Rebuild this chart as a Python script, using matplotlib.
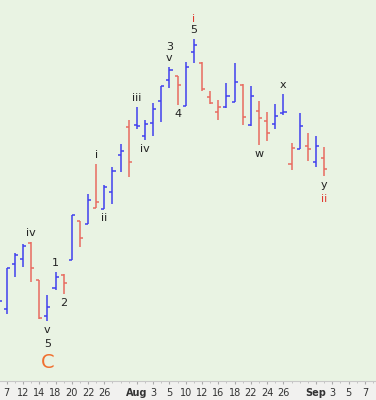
import matplotlib.pyplot as plt

# OHLC bars (price units), oldest first
opens = [30.8, 29.1, 33.6, 34.1, 35.7, 32.0, 28.4, 31.2, 32.5, 34.0, 37.9,
         37.6, 39.2, 39.1, 40.8, 44.5, 47.3, 47.5, 46.4, 47.7, 49.9, 52.0,
         52.4, 49.4, 54.8, 53.7, 50.3, 48.8, 49.3, 49.8, 51.5, 47.5, 48.9,
         47.9, 47.6, 48.7, 43.6, 45.1, 45.4, 43.8, 44.2]
highs = [31.5, 33.2, 34.7, 35.6, 35.8, 32.0, 30.5, 32.8, 32.6, 38.5, 37.9,
         40.6, 43.6, 41.5, 43.3, 45.6, 48.0, 49.3, 48.0, 49.7, 51.4, 53.3,
         52.4, 53.8, 56.1, 53.8, 50.9, 50.0, 51.7, 53.7, 51.6, 51.4, 49.9,
         48.8, 49.6, 50.6, 45.7, 48.7, 46.7, 46.4, 45.3]
lows = [29.0, 28.6, 32.3, 33.3, 31.8, 28.1, 27.9, 31.0, 30.6, 34.0, 35.3,
        37.6, 39.2, 39.1, 39.6, 42.8, 42.3, 47.1, 46.0, 46.4, 47.8, 51.2,
        49.5, 49.4, 53.7, 50.9, 49.6, 48.0, 49.2, 49.8, 47.5, 47.4, 45.5,
        45.9, 47.1, 48.5, 43.0, 45.1, 43.9, 43.3, 42.4]
closes = [29.9, 33.2, 34.5, 35.4, 33.2, 28.2, 29.3, 32.3, 31.7, 38.5, 36.2,
          40.0, 39.8, 41.3, 42.9, 44.9, 43.8, 47.4, 47.6, 49.1, 51.4, 53.0,
          51.5, 53.3, 55.5, 51.1, 49.7, 49.3, 50.4, 51.8, 48.3, 50.4, 48.2,
          46.7, 48.4, 48.8, 45.2, 47.4, 45.1, 45.4, 43.1]

# wave labels: bar index, text, above/below the bar
wave_bar = [4, 6, 6, 6, 7, 8, 12, 13, 17, 18, 21, 21, 22, 24, 24, 32, 35, 40, 40]
wave_text = ["iv", "v", "5", "C", "1", "2", "i", "ii", "iii", "iv", "v", "3",
             "4", "5", "i", "w", "x", "y", "ii"]
wave_side = ["up", "dn", "dn", "dn", "up", "dn", "up", "dn", "up", "dn", "up",
             "up", "dn", "up", "up", "dn", "up", "dn", "dn"]

# x axis labels (every other bar)
tick_pos = [1, 3, 5, 7, 9, 11, 13, 17, 19, 21, 23, 25, 27, 29, 31, 33, 35,
            39, 41, 43, 45]
tick_lab = ["7", "12", "14", "18", "20", "22", "26", "Aug", "3", "5", "10",
            "12", "16", "18", "22", "24", "26", "Sep", "3", "5", "7"]

blue = "#4040ee"
red = "#e86a60"

fig = plt.figure(figsize=(3.76, 4.0), dpi=100)
fig.patch.set_facecolor("#f1f1ef")
ax = fig.add_axes([0, 19 / 400, 1, 381 / 400])
ax.set_facecolor("#e9f3e3")

for i in range(len(opens)):
    up = i == 0 or closes[i] >= closes[i - 1]
    c = blue if up else red
    ax.vlines(i, lows[i], highs[i], color=c, lw=1.1)
    ax.hlines(opens[i], i - 0.38, i, color=c, lw=1.1)
    ax.hlines(closes[i], i, i + 0.38, color=c, lw=1.1)

# stacked labels: count how many are already on each side of a bar
stack = {}
for b, t, s in zip(wave_bar, wave_text, wave_side):
    k = (b, s)
    n = stack.get(k, 0)
    stack[k] = n + 1
    color = "#222222"
    size = 8
    if t == "C":
        color = "#f07030"
        size = 14
    elif (t == "i" and b == 24) or (t == "ii" and b == 40):
        color = "#e03a30"
    if s == "up":
        y = highs[b]
        off = 3 + n * 8
        va = "bottom"
    else:
        y = lows[b]
        off = -(3 + n * 10)
        va = "top"
    ax.annotate(t, (b, y), xytext=(0, off), textcoords="offset points",
                ha="center", va=va, fontsize=size, color=color)

ax.set_xlim(0.18, 46.37)
ax.set_ylim(21.9, 60)
ax.set_yticks([])
ax.set_xticks(tick_pos)
ax.set_xticklabels(tick_lab, fontsize=7, color="#333333")
for lab in ax.get_xticklabels():
    if lab.get_text() in ("Aug", "Sep"):
        lab.set_fontweight("bold")
ax.set_xticks(range(1, 47), minor=True)
ax.tick_params(axis="x", length=2, pad=3, color="#aaaaaa")
ax.tick_params(axis="x", which="minor", length=1.5, color="#bbbbbb")
for side in ["top", "left", "right"]:
    ax.spines[side].set_visible(False)
ax.spines["bottom"].set_color("#c8c8c8")

fig.savefig("out.png", dpi=100)
